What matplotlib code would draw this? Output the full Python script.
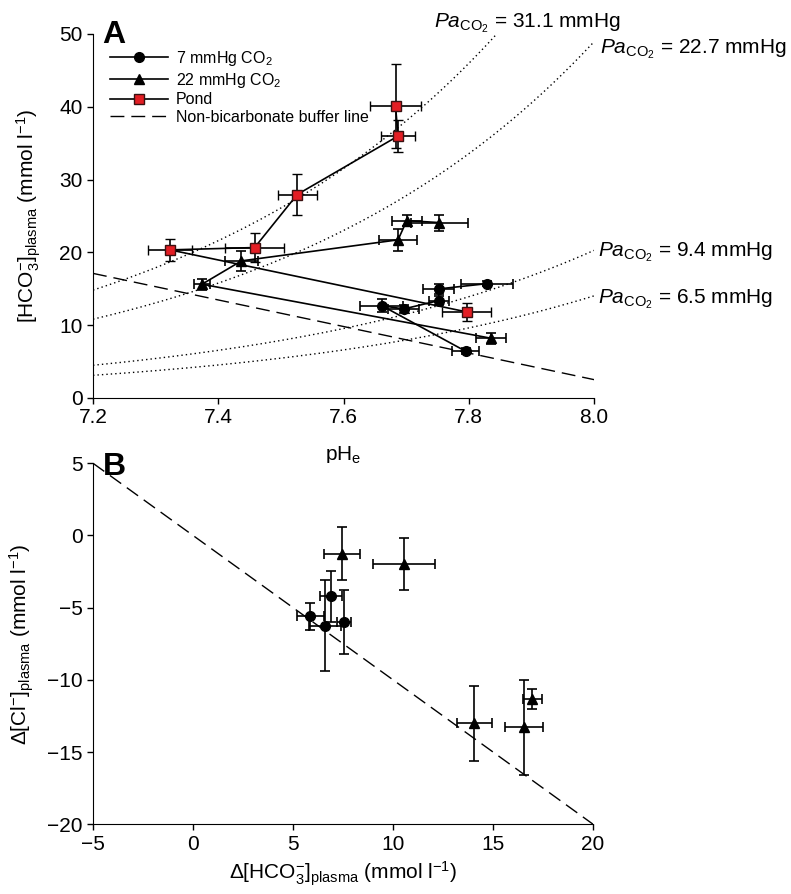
import numpy as np
import matplotlib
matplotlib.use('Agg')
import matplotlib.pyplot as plt
from matplotlib.lines import Line2D

plt.rcParams['font.family'] = ['Liberation Sans', 'DejaVu Sans']
plt.rcParams['mathtext.fontset'] = 'custom'
plt.rcParams['mathtext.rm'] = 'Liberation Sans'
plt.rcParams['mathtext.it'] = 'Liberation Sans:italic'
plt.rcParams['mathtext.bf'] = 'Liberation Sans:bold'

# ---- panel A: pH / bicarbonate diagram ----
ph_7 = [7.795, 7.661, 7.696, 7.752, 7.752, 7.829]
hco3_7 = [6.40, 12.67, 12.21, 13.36, 14.97, 15.69]
ph_7_err = [0.022, 0.034, 0.025, 0.016, 0.025, 0.042]
hco3_7_err = [0.4, 0.9, 0.5, 0.65, 0.7, 0.3]

ph_22 = [7.836, 7.374, 7.437, 7.687, 7.701, 7.753]
hco3_22 = [8.18, 15.61, 18.82, 21.71, 24.36, 24.08]
ph_22_err = [0.024, 0.012, 0.026, 0.031, 0.024, 0.045]
hco3_22_err = [0.73, 0.73, 1.35, 1.5, 0.8, 1.1]

ph_pond = [7.797, 7.323, 7.458, 7.526, 7.687, 7.683]
hco3_pond = [11.80, 20.33, 20.65, 27.94, 35.97, 40.14]
ph_pond_err = [0.039, 0.035, 0.047, 0.031, 0.027, 0.040]
hco3_pond_err = [1.2, 1.5, 2.0, 2.8, 2.2, 5.8]

# PCO2 isopleths (mmHg) and their fitted Henderson-Hasselbalch form
pco2_lines = [31.1, 22.7, 9.4, 6.5]
hh_coef = 0.476      # [HCO3-] per mmHg at pH 7.2
hh_slope = 0.82
# label anchor (pH, HCO3) for each isopleth
pco2_label_pos = [(7.744, 50.87), (8.010, 47.4), (8.006, 19.41), (8.006, 13.0)]

# non-bicarbonate buffer line end points
nbb_ph = [7.2, 8.0]
nbb_hco3 = [17.1, 2.5]

# ---- panel B: chloride vs bicarbonate change ----
dhco3_7 = [5.87, 6.6, 6.9, 7.53]
dcl_7 = [-5.60, -6.25, -4.22, -6.02]
dhco3_7_err = [0.68, 0.8, 0.57, 0.35]
dcl_7_err = [0.95, 3.17, 1.77, 2.22]

dhco3_22 = [7.45, 10.55, 14.07, 16.54, 16.97]
dcl_22 = [-1.25, -1.99, -12.99, -13.29, -11.32]
dhco3_22_err = [0.92, 1.57, 0.86, 0.95, 0.46]
dcl_22_err = [1.85, 1.81, 2.6, 3.3, 0.7]

unity_x = [-5, 20]
unity_y = [5, -20]

red = '#e31e24'
tick_fs = 15
lab_fs = 15

fig = plt.figure(figsize=(7.91, 8.94), dpi=100)
axA = fig.add_axes([0.1176, 0.555, 0.6334, 0.407])
axB = fig.add_axes([0.1176, 0.078, 0.6322, 0.4038])

for ax in (axA, axB):
    ax.spines['top'].set_visible(False)
    ax.spines['right'].set_visible(False)
    ax.tick_params(direction='out', length=4, width=1, labelsize=tick_fs)

ebkw = dict(color='black', lw=1.2, capsize=3.8, capthick=1.2, elinewidth=1.2)

# isopleths
ph_grid = np.linspace(7.2, 8.0, 200)
for p in pco2_lines:
    axA.plot(ph_grid, hh_coef * p * 10 ** (hh_slope * (ph_grid - 7.2)),
             color='black', lw=1.0, linestyle=(0, (1, 2.2)), zorder=1)
for p, (lx, ly) in zip(pco2_lines, pco2_label_pos):
    axA.text(lx, ly, r'$\mathit{Pa}_{\mathrm{CO}_2}$' + f' = {p} mmHg',
             fontsize=lab_fs, ha='left', va='baseline', clip_on=False)

axA.plot(nbb_ph, nbb_hco3, color='black', lw=1.0, dashes=(10, 5), zorder=1)

axA.errorbar(ph_7, hco3_7, xerr=ph_7_err, yerr=hco3_7_err, fmt='o-',
             ms=7, mfc='black', mec='black', zorder=3, **ebkw)
axA.errorbar(ph_22, hco3_22, xerr=ph_22_err, yerr=hco3_22_err, fmt='^-',
             ms=7, mfc='black', mec='black', zorder=3, **ebkw)
axA.errorbar(ph_pond, hco3_pond, xerr=ph_pond_err, yerr=hco3_pond_err, fmt='s-',
             ms=6.5, mfc=red, mec='#3a1010', mew=1.0, zorder=4, **ebkw)

axA.set_xlim(7.2, 8.0)
axA.set_ylim(0, 50)
axA.set_xticks([7.2, 7.4, 7.6, 7.8, 8.0])
axA.set_xticklabels(['7.2', '7.4', '7.6', '7.8', '8.0'])
axA.set_yticks([0, 10, 20, 30, 40, 50])
axA.set_xlabel(r'pH$_{\mathrm{e}}$', fontsize=lab_fs, labelpad=12)
axA.set_ylabel(r'[HCO$_3^{-}$]$_{\mathrm{plasma}}$ (mmol l$^{-1}$)', fontsize=lab_fs, labelpad=12)

handles = [
    Line2D([], [], color='black', lw=1.2, marker='o', ms=7),
    Line2D([], [], color='black', lw=1.2, marker='^', ms=7),
    Line2D([], [], color='black', lw=1.2, marker='s', ms=6.5, mfc=red, mec='#3a1010'),
    Line2D([], [], color='black', lw=1.0, dashes=(10, 5)),
]
labels = [r'7 mmHg CO$_2$', r'22 mmHg CO$_2$', 'Pond', 'Non-bicarbonate buffer line']
axA.legend(handles, labels, loc='upper left', bbox_to_anchor=(0.012, 0.99), frameon=False,
           fontsize=11.5, handlelength=3.6, handletextpad=0.5, labelspacing=0.17,
           borderaxespad=0.3)

fig.text(114 / 791, 1 - 35 / 894, 'A', fontsize=23, fontweight='bold', ha='center', va='center')
fig.text(114 / 791, 1 - 467 / 894, 'B', fontsize=23, fontweight='bold', ha='center', va='center')

# panel B
axB.plot(unity_x, unity_y, color='black', lw=1.0, dashes=(10, 5), zorder=1)
axB.errorbar(dhco3_7, dcl_7, xerr=dhco3_7_err, yerr=dcl_7_err, fmt='o',
             ms=7, mfc='black', mec='black', zorder=3, **ebkw)
axB.errorbar(dhco3_22, dcl_22, xerr=dhco3_22_err, yerr=dcl_22_err, fmt='^',
             ms=7, mfc='black', mec='black', zorder=3, **ebkw)
axB.set_xlim(-5, 20)
axB.set_ylim(-20, 5)
axB.set_xticks([-5, 0, 5, 10, 15, 20])
axB.set_yticks([5, 0, -5, -10, -15, -20])
axB.set_xlabel(r'Δ[HCO$_3^{-}$]$_{\mathrm{plasma}}$ (mmol l$^{-1}$)', fontsize=lab_fs, labelpad=4)
axB.set_ylabel(r'Δ[Cl$^{-}$]$_{\mathrm{plasma}}$ (mmol l$^{-1}$)', fontsize=lab_fs, labelpad=8)

fig.savefig('out.png', dpi=100)
